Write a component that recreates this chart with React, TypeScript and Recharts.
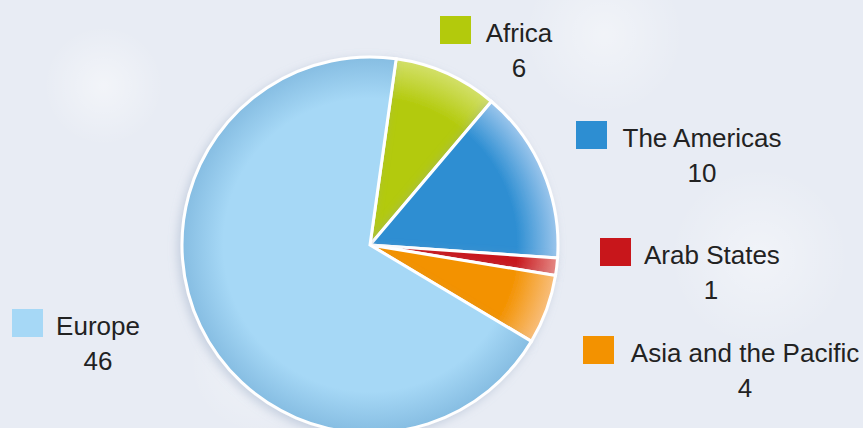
import { PieChart, Pie, Cell } from 'recharts';

const regions = ['Africa', 'The Americas', 'Arab States', 'Asia and the Pacific', 'Europe'];
const counts = [6, 10, 1, 4, 46];
const colors = ['#b3ca0c', '#2d8ed2', '#c8161b', '#f39200', '#a6d8f6'];
const edgeColors = ['#d3e06a', '#9cc6ec', '#e58a86', '#f8be7c', '#86bde2'];

const data = regions.map((name, i) => ({ name, value: counts[i] }));

const W = 863;
const H = 428;
const CX = 370;
const CY = 245;
const R = 188;

// legend placement (left, top) for each region's square + text block
const legendPos: Record<string, { left: number; top: number; textW: number }> = {
  Africa: { left: 440, top: 16, textW: 70 },
  'The Americas': { left: 576, top: 121, textW: 164 },
  'Arab States': { left: 600, top: 238, textW: 134 },
  'Asia and the Pacific': { left: 583, top: 336, textW: 236 },
  Europe: { left: 12, top: 309, textW: 84 },
};

const snow =
  'radial-gradient(circle at 12% 20%, rgba(255,255,255,0.45) 0, rgba(255,255,255,0) 60px),' +
  'radial-gradient(circle at 70% 8%, rgba(255,255,255,0.4) 0, rgba(255,255,255,0) 80px),' +
  'radial-gradient(circle at 88% 60%, rgba(255,255,255,0.4) 0, rgba(255,255,255,0) 90px),' +
  'radial-gradient(circle at 30% 85%, rgba(255,255,255,0.35) 0, rgba(255,255,255,0) 70px),' +
  '#e8ecf4';

export default function App() {
  return (
    <div
      style={{
        position: 'absolute',
        left: 0,
        top: 0,
        width: W,
        height: H,
        overflow: 'hidden',
        background: snow,
        fontFamily: '"Liberation Sans", Arial, sans-serif',
      }}
    >
      <PieChart width={W} height={H} margin={{ top: 0, right: 0, bottom: 0, left: 0 }}>
        <defs>
          {colors.map((c, i) => (
            <radialGradient key={i} id={`slice${i}`} gradientUnits="userSpaceOnUse" cx={CX} cy={CY} r={R}>
              <stop offset="0%" stopColor={c} />
              <stop offset="78%" stopColor={c} />
              <stop offset="100%" stopColor={edgeColors[i]} />
            </radialGradient>
          ))}
          <filter id="pieShadow" x="-20%" y="-20%" width="140%" height="140%">
            <feDropShadow dx="-3" dy="3" stdDeviation="5" floodColor="#8fa3bf" floodOpacity="0.4" />
          </filter>
        </defs>
        <Pie
          data={data}
          dataKey="value"
          nameKey="name"
          cx={CX}
          cy={CY}
          outerRadius={R}
          startAngle={82}
          endAngle={-278}
          stroke="#ffffff"
          strokeWidth={3}
          isAnimationActive={false}
          style={{ filter: 'url(#pieShadow)' }}
        >
          {data.map((d, i) => (
            <Cell key={d.name} fill={`url(#slice${i})`} />
          ))}
        </Pie>
      </PieChart>
      {data.map((d, i) => {
        const p = legendPos[d.name];
        return (
          <div
            key={d.name}
            style={{ position: 'absolute', left: p.left, top: p.top, display: 'flex', alignItems: 'flex-start' }}
          >
            <div style={{ width: 31, height: 28, background: colors[i] }} />
            <div
              style={{
                marginLeft: 13,
                width: p.textW,
                textAlign: 'center',
                fontSize: 26,
                lineHeight: '35px',
                color: '#222222',
                whiteSpace: 'nowrap',
              }}
            >
              <div>{d.name}</div>
              <div>{d.value}</div>
            </div>
          </div>
        );
      })}
    </div>
  );
}
